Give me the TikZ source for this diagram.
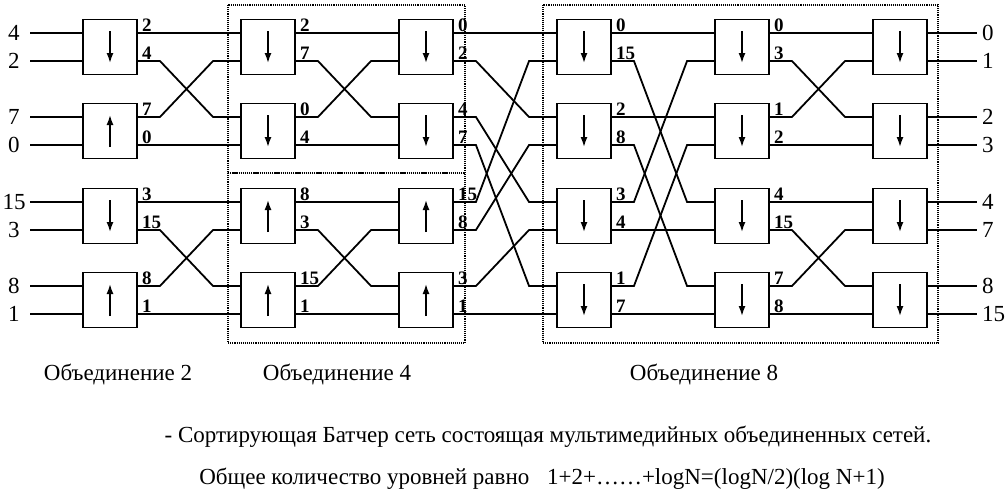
\documentclass[tikz,border=0pt]{standalone}
\usepackage{fontspec}
\setmainfont{Liberation Serif}
\usetikzlibrary{arrows.meta,calc}

\tikzset{
  cmp/.style={draw,line width=1.9pt,minimum width=54pt,minimum height=55pt,inner sep=0pt},
  wire/.style={line width=1.8pt},
  frame/.style={densely dotted,line width=1.1pt},
  val/.style={anchor=south west,inner sep=0pt,xshift=4pt,yshift=1pt,font=\bfseries\fontsize{19}{19}\selectfont},
  pin/.style={inner sep=0pt,font=\fontsize{23}{23}\selectfont},
  sortarrow/.style={line width=1.6pt,-{Latex[length=10pt,width=7pt]}},
  txt/.style={inner sep=0pt,font=\fontsize{23}{23}\selectfont}
}

\begin{document}
\begin{tikzpicture}[x=1pt,y=-1pt]
\useasboundingbox (0,0) rectangle (1008,496);
% line rows
\foreach \k/\y in {1/33,2/61,3/117,4/145,5/202,6/230,7/286,8/314}
  \coordinate (r\k) at (0,\y);
% comparators
\foreach \c/\x in {1/110,2/268,3/426,4/584,5/742,6/900}
  \foreach \r/\y in {1/47,2/131,3/216,4/300}
    \node[cmp] (b\c\r) at (\x,\y) {};
\foreach \b in {11,13,21,22,31,32,41,42,43,44,51,52,53,54,61,62,63,64}
  \draw[sortarrow] ([yshift=16pt]b\b.center) -- ([yshift=-16pt]b\b.center);
\foreach \b in {12,14,23,24,33,34}
  \draw[sortarrow] ([yshift=-16pt]b\b.center) -- ([yshift=16pt]b\b.center);
% frames
\draw[frame] (228,5) rectangle (465,173);
\draw[frame] (228,173) rectangle (465,343);
\draw[frame] (543,5) rectangle (938,343);
% merge wiring
\foreach \s/\t in {1/2,2/3,5/6}
  \foreach \fb/\fr/\tb/\tr in {1/1/1/1,1/2/2/3,2/3/1/2,2/4/2/4,3/5/3/5,3/6/4/7,4/7/3/6,4/8/4/8}
    \draw[wire] (b\s\fb.east |- r\fr) -- ++(22,0) -- ($(b\t\tb.west |- r\tr)+(-27,0)$) -- (b\t\tb.west |- r\tr);
% shuffle 3 -> 4
\foreach \fb/\fr/\tb/\tr in {1/1/1/1,1/2/2/3,2/3/3/5,2/4/4/7,3/5/1/2,3/6/2/4,4/7/3/6,4/8/4/8}
  \draw[wire] (b3\fb.east |- r\fr) -- ++(22,0) -- ($(b4\tb.west |- r\tr)+(-27,0)$) -- (b4\tb.west |- r\tr);
% 4 -> 5
\foreach \fb/\fr/\tb/\tr in {1/1/1/1,1/2/3/5,2/3/2/3,2/4/4/7,3/5/1/2,3/6/3/6,4/7/2/4,4/8/4/8}
  \draw[wire] (b4\fb.east |- r\fr) -- ++(22,0) -- ($(b5\tb.west |- r\tr)+(-27,0)$) -- (b5\tb.west |- r\tr);
% values after each level
\foreach \c/\vals in {1/{2,4,7,0,3,15,8,1},2/{2,7,0,4,8,3,15,1},3/{0,2,4,7,15,8,3,1},4/{0,15,2,8,3,4,1,7},5/{0,3,1,2,4,15,7,8}}
  \foreach \v [count=\k] in \vals {
    \pgfmathtruncatemacro{\b}{(\k+1)/2}
    \node[val] (v\c\k) at (b\c\b.east |- r\k) {\v};
  }
% inputs and outputs
\foreach \v [count=\k] in {4,2,7,0,15,3,8,1} {
  \pgfmathtruncatemacro{\b}{(\k+1)/2}
  \node[pin] (in\k) at ([xshift=14pt]r\k) {\v};
  \coordinate (s\k) at ([xshift=30pt]r\k);
  \draw[wire] (s\k) -- (b1\b.west |- r\k);
}
\foreach \v [count=\k] in {0,1,2,3,4,7,8,15} {
  \pgfmathtruncatemacro{\b}{(\k+1)/2}
  \coordinate (e\k) at ([xshift=977pt]r\k);
  \draw[wire] (b6\b.east |- r\k) -- (e\k);
  \node[pin,anchor=west] (out\k) at ([xshift=982pt]r\k) {\v};
}
% captions
\node[txt] (lab2) at (118,374) {Объединение 2};
\node[txt] (lab4) at (337,374) {Объединение 4};
\node[txt] (lab8) at (704,374) {Объединение 8};
\node[txt] (capt) at (548,437) {- Сортирующая Батчер сеть состоящая мультимедийных объединенных сетей.};
\node[txt] (form) at (542,479) {Общее количество уровней равно\hspace{12pt} 1+2+……+logN=(logN/2)(log N+1)};
\end{tikzpicture}
\end{document}
